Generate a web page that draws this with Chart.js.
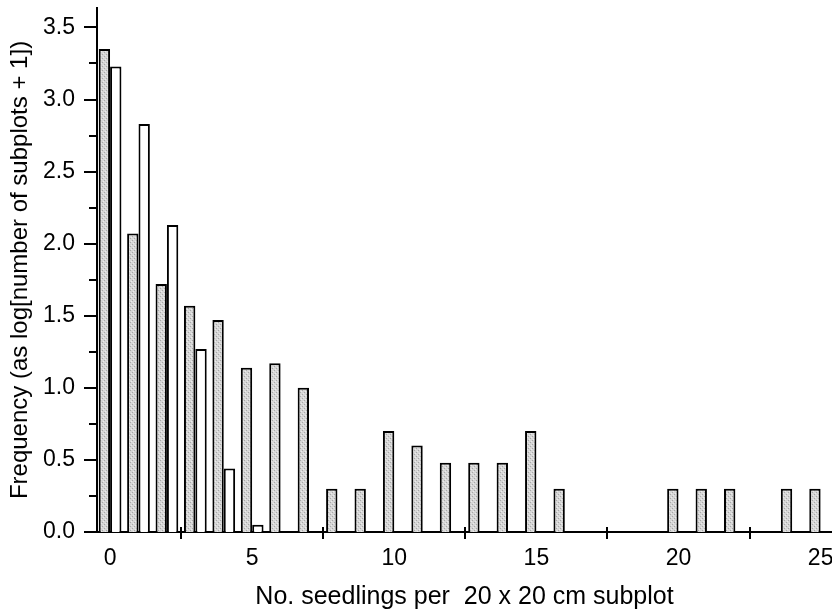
<!DOCTYPE html>
<html>
<head>
<meta charset="utf-8">
<script src="https://cdn.jsdelivr.net/npm/chart.js@4/dist/chart.umd.min.js"></script>
<style>
  html, body { margin: 0; padding: 0; background: #fff; }
  #wrap { width: 832px; height: 613px; }
</style>
</head>
<body>
<div id="wrap"><canvas id="chart"></canvas></div>
<script>
// seedling counts per subplot (x categories)
const seedCounts = [0, 1, 2, 3, 4, 5, 6, 7, 8, 9, 10, 11, 12, 13, 14, 15, 16, 17, 18, 19, 20, 21, 22, 23, 24, 25];
// grey (stippled) bars
const greyFreq = [3.35, 2.07, 1.72, 1.57, 1.47, 1.14, 1.17, 1.00, 0.30, 0.30, 0.70, 0.60, 0.48, 0.48, 0.48, 0.70, 0.30, null, null, null, 0.30, 0.30, 0.30, null, 0.30, 0.30];
// white bars
const whiteCounts = [0, 1, 2, 3, 4, 5];
const whiteFreq = [3.23, 2.83, 2.13, 1.27, 0.44, 0.05];

// tick marks
const yMajorTicks = [0, 0.5, 1.0, 1.5, 2.0, 2.5, 3.0, 3.5];
const yMinorTicks = [0.25, 0.75, 1.25, 1.75, 2.25, 2.75, 3.25];
const xTickMarks = [2.5, 7.5, 12.5, 17.5, 22.5];

const FONT = 'Arial, "Liberation Sans", Helvetica, sans-serif';

// light stipple fill, fixed dot layout
const makeStipple = () => {
  const c = document.createElement('canvas');
  c.width = 4; c.height = 4;
  const g = c.getContext('2d');
  g.fillStyle = '#d6d6d6';
  g.fillRect(0, 0, 4, 4);
  g.fillStyle = '#a8a8a8';
  g.fillRect(0, 0, 1, 1);
  g.fillRect(2, 2, 1, 1);
  g.fillStyle = '#ececec';
  g.fillRect(3, 1, 1, 1);
  g.fillRect(1, 3, 1, 1);
  return g.createPattern(c, 'repeat');
};

const tickMarks = {
  id: 'tickMarks',
  afterDraw(chart) {
    const { ctx, scales: { x, y } } = chart;
    ctx.save();
    ctx.strokeStyle = '#000';
    ctx.lineWidth = 2;
    ctx.beginPath();
    yMajorTicks.forEach(v => {
      const p = Math.round(y.getPixelForValue(v));
      ctx.moveTo(x.left - 13, p);
      ctx.lineTo(x.left, p);
    });
    yMinorTicks.forEach(v => {
      const p = Math.round(y.getPixelForValue(v));
      ctx.moveTo(x.left - 8, p);
      ctx.lineTo(x.left, p);
    });
    const base = y.getPixelForValue(0);
    xTickMarks.forEach(v => {
      const p = Math.round(x.getPixelForValue(v));
      ctx.moveTo(p, base - 5);
      ctx.lineTo(p, base + 7);
    });
    ctx.stroke();
    ctx.restore();
  }
};

new Chart(document.getElementById('chart').getContext('2d'), {
  type: 'bar',
  data: {
    datasets: [
      {
        label: 'grey',
        data: seedCounts.map((x, i) => ({ x, y: greyFreq[i] })),
        backgroundColor: makeStipple(),
        borderColor: '#000',
        borderWidth: 2,
        borderSkipped: 'bottom',
      },
      {
        label: 'white',
        data: whiteCounts.map((x, i) => ({ x, y: whiteFreq[i] })),
        backgroundColor: '#fff',
        borderColor: '#000',
        borderWidth: 2,
        borderSkipped: 'bottom',
      },
    ],
  },
  options: {
    responsive: true,
    maintainAspectRatio: false,
    animation: false,
    categoryPercentage: 0.8,
    barPercentage: 1.0,
    layout: { padding: { top: 8, left: 0, right: 0, bottom: 0 } },
    plugins: {
      legend: { display: false },
      tooltip: { enabled: false },
    },
    scales: {
      x: {
        type: 'linear',
        offset: false,
        min: -0.46,
        max: 25.4,
        grid: { display: false, drawTicks: false },
        border: { display: true, color: '#000', width: 2 },
        ticks: {
          stepSize: 5,
          includeBounds: false,
          color: '#000',
          padding: 13,
          maxRotation: 0,
          font: { family: FONT, size: 23 },
          callback: (v) => String(v),
        },
        title: {
          display: true,
          text: 'No. seedlings per  20 x 20 cm subplot',
          color: '#000',
          font: { family: FONT, size: 25 },
          padding: { top: 0, bottom: 1 },
        },
        afterFit: (scale) => {
          scale.height = 81;
          scale.paddingLeft = 0;
          scale.paddingRight = 0;
        },
      },
      y: {
        type: 'linear',
        min: 0,
        max: 3.635,
        grid: { display: false, drawTicks: false },
        border: { display: true, color: '#000', width: 2 },
        ticks: {
          stepSize: 0.5,
          includeBounds: false,
          color: '#000',
          padding: 22,
          font: { family: FONT, size: 23 },
          callback: (v) => v.toFixed(1),
        },
        title: {
          display: true,
          text: 'Frequency (as log[number of subplots + 1])',
          color: '#000',
          font: { family: FONT, size: 24 },
          padding: { top: 6, bottom: 0 },
        },
        afterFit: (scale) => {
          scale.width = 97;
          scale.paddingTop = 0;
          scale.paddingBottom = 0;
        },
      },
    },
  },
  plugins: [tickMarks],
});
</script>
</body>
</html>
